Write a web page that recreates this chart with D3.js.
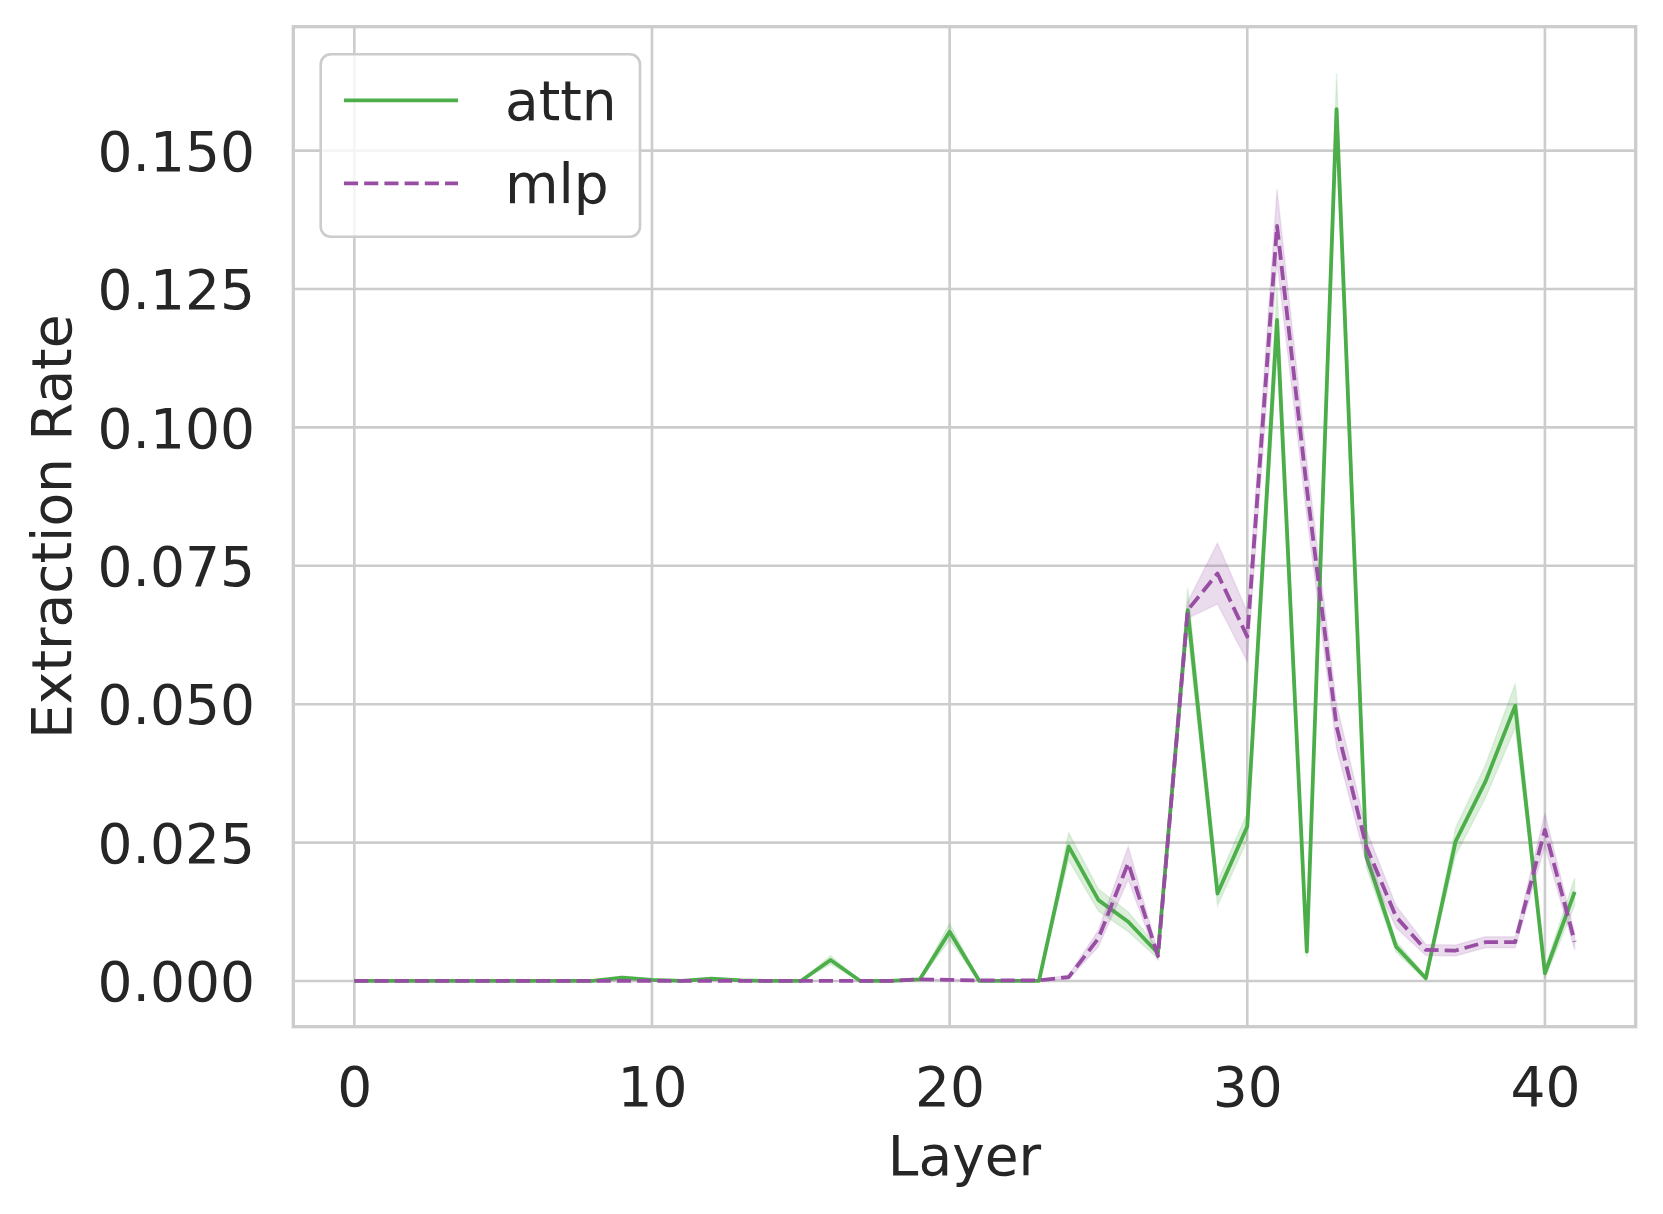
<!DOCTYPE html>
<html>
<head>
<meta charset="utf-8">
<script src="https://cdn.jsdelivr.net/npm/d3@7"></script>
<style>
  html, body { margin: 0; padding: 0; background: #ffffff; }
  svg { display: block; }
  text { font-family: "DejaVu Sans", sans-serif; fill: #262626; }
</style>
</head>
<body>
<svg id="chart" width="1663" height="1214"></svg>
<script>
// ---- data ----
const layers = d3.range(0, 42);
const seriesNames = ["attn", "mlp"];
const attnValues = [0,0,0,0,0,0,0,0,0,0.0006,0.0002,0,0.0004,0.0001,0,0,0.0038,0,0,0.0003,
  0.0089,0,0,0,0.0243,0.0146,0.0107,0.005,0.067,0.0158,0.0279,0.1194,0.0053,0.1575,0.0225,
  0.0062,0.0005,0.0252,0.036,0.0497,0.0014,0.0161];
const attnCI = [0,0,0,0,0,0,0,0,0,0.0003,0.0001,0,0.0002,0.0001,0,0,0.0008,0,0,0.0002,
  0.0015,0,0,0,0.0025,0.002,0.0018,0.001,0.004,0.0022,0.0025,0.006,0.001,0.0065,0.002,
  0.001,0.0004,0.0025,0.003,0.004,0.001,0.0025];
const mlpValues = [0,0,0,0,0,0,0,0,0,0,0,0,0,0,0,0,0,0,0,0.0003,
  0.0002,0.0001,0.0001,0.0001,0.0007,0.0077,0.0213,0.0045,0.067,0.0736,0.0622,0.1364,0.089,0.046,0.0243,
  0.0116,0.0056,0.0055,0.007,0.007,0.0273,0.0071];
const mlpCI = [0,0,0,0,0,0,0,0,0,0,0,0,0,0,0,0,0,0,0,0.0001,
  0.0001,0.0001,0.0001,0.0001,0.0004,0.0015,0.003,0.0008,0.0015,0.0055,0.0045,0.0066,0.005,0.004,0.003,
  0.002,0.001,0.001,0.001,0.001,0.003,0.0015];
const xTicks = [0, 10, 20, 30, 40];
const yTicks = [0, 0.025, 0.05, 0.075, 0.1, 0.125, 0.15];
const xLabel = "Layer";
const yLabel = "Extraction Rate";

// ---- layout ----
const svg = d3.select("#chart");
const L = 293.3, R = 1635.7, T = 26.7, B = 1026.7;
const x = d3.scaleLinear().domain([-2.05, 43.05]).range([L, R]);
const y = d3.scaleLinear().domain([-0.00826, 0.17238]).range([B, T]);

const colors = { attn: "#4daf4a", mlp: "#984ea3" };
const dash = { attn: null, mlp: "14.1,6.1" };
const lw = 3.8;
const fs = 55;

// grid
const gGrid = svg.append("g");
gGrid.selectAll("line.gx").data(xTicks).join("line")
  .attr("x1", d => x(d)).attr("x2", d => x(d)).attr("y1", T).attr("y2", B)
  .attr("stroke", "#cccccc").attr("stroke-width", 2.6);
gGrid.selectAll("line.gy").data(yTicks).join("line")
  .attr("x1", L).attr("x2", R).attr("y1", d => y(d)).attr("y2", d => y(d))
  .attr("stroke", "#cccccc").attr("stroke-width", 2.6);

// series
const seriesData = {
  attn: layers.map((l, i) => ({ l, v: attnValues[i], lo: attnValues[i] - attnCI[i], hi: attnValues[i] + attnCI[i] })),
  mlp: layers.map((l, i) => ({ l, v: mlpValues[i], lo: mlpValues[i] - mlpCI[i], hi: mlpValues[i] + mlpCI[i] }))
};
const line = d3.line().x(d => x(d.l)).y(d => y(d.v));
const area = d3.area().x(d => x(d.l)).y0(d => y(d.lo)).y1(d => y(d.hi));

const gData = svg.append("g");
seriesNames.forEach(name => {
  const data = seriesData[name];
  gData.append("path").datum(data).attr("d", line)
    .attr("fill", "none").attr("stroke", colors[name]).attr("stroke-width", lw)
    .attr("stroke-dasharray", dash[name]).attr("stroke-linejoin", "round");
  gData.append("path").datum(data).attr("d", area)
    .attr("fill", colors[name]).attr("fill-opacity", 0.2)
    .attr("stroke", colors[name]).attr("stroke-opacity", 0.12).attr("stroke-width", 1.5);
});

// frame
svg.append("rect").attr("x", L).attr("y", T).attr("width", R - L).attr("height", B - T)
  .attr("fill", "none").attr("stroke", "#cccccc").attr("stroke-width", 3.3);

// axes tick labels via d3 axes
const xAxis = d3.axisBottom(x).tickValues(xTicks).tickSize(0).tickPadding(0).tickFormat(d3.format("d"));
const gx = svg.append("g").attr("transform", `translate(0,${B})`).call(xAxis);
gx.select(".domain").remove();
gx.selectAll("text").attr("y", 79).attr("dy", null)
  .style("font-size", fs + "px").style("font-family", "DejaVu Sans").attr("fill", "#262626");

const yAxis = d3.axisLeft(y).tickValues(yTicks).tickSize(0).tickPadding(0).tickFormat(d3.format(".3f"));
const gy = svg.append("g").attr("transform", `translate(255,0)`).call(yAxis);
gy.select(".domain").remove();
gy.selectAll("text").attr("x", 0).attr("dy", "0.36em")
  .style("font-size", fs + "px").style("font-family", "DejaVu Sans").attr("fill", "#262626");

// axis labels
svg.append("text").attr("x", (L + R) / 2).attr("y", 1175).attr("text-anchor", "middle")
  .style("font-size", fs + "px").text(xLabel);
svg.append("text").attr("transform", `translate(70.5,${(T + B) / 2}) rotate(-90)`)
  .attr("text-anchor", "middle").style("font-size", fs + "px").text(yLabel);

// legend
const lg = svg.append("g");
lg.append("rect").attr("x", 320.7).attr("y", 54.3).attr("width", 319.3).attr("height", 182.4)
  .attr("rx", 10).attr("ry", 10)
  .attr("fill", "#ffffff").attr("fill-opacity", 0.8)
  .attr("stroke", "#cccccc").attr("stroke-width", 2.6);
seriesNames.forEach((name, i) => {
  const yy = 100.3 + i * 83;
  lg.append("line").attr("x1", 344).attr("x2", 458).attr("y1", yy).attr("y2", yy)
    .attr("stroke", colors[name]).attr("stroke-width", lw).attr("stroke-dasharray", dash[name]);
  lg.append("text").attr("x", 505).attr("y", yy + 20).style("font-size", fs + "px").text(name);
});
</script>
</body>
</html>
